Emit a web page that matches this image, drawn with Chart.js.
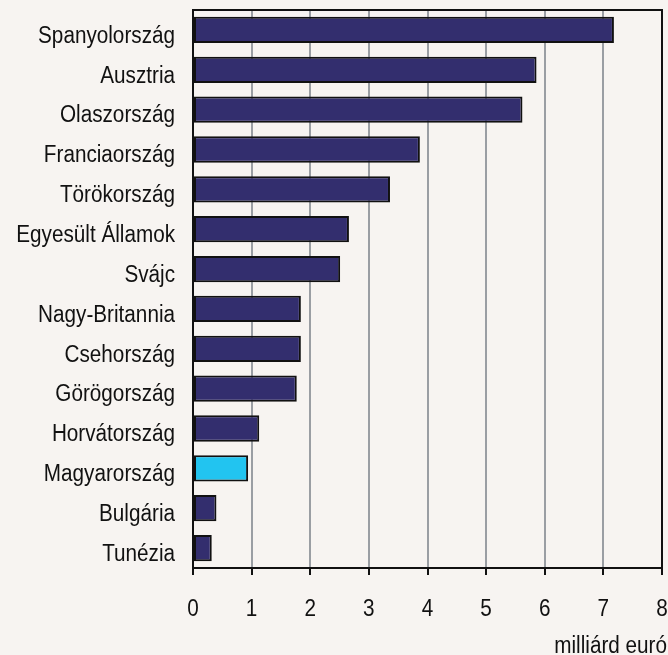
<!DOCTYPE html>
<html lang="hu">
<head>
<meta charset="UTF-8">
<title>Chart</title>
<style>
  html, body { margin: 0; padding: 0; background: #f7f4f1; }
  #wrap { width: 668px; height: 655px; }
</style>
</head>
<body>
<div id="wrap"><canvas id="chart" width="668" height="655"></canvas></div>
<script src="https://cdn.jsdelivr.net/npm/chart.js"></script>
<script>
  const countries = ["Spanyolország", "Ausztria", "Olaszország", "Franciaország", "Törökország",
    "Egyesült Államok", "Svájc", "Nagy-Britannia", "Csehország", "Görögország",
    "Horvátország", "Magyarország", "Bulgária", "Tunézia"];
  const values = [7.18, 5.86, 5.62, 3.87, 3.36, 2.66, 2.51, 1.84, 1.84, 1.77, 1.13, 0.94, 0.40, 0.32];
  const highlight = "Magyarország";
  const unitLabel = "milliárd euró";

  // the original uses a narrow face; squeeze Liberation Sans a little
  const fontCss = "23px 'Liberation Sans', Arial, sans-serif";
  const squeeze = 0.9;

  function narrowText(ctx, text, x, y) {
    ctx.save();
    ctx.translate(x, y);
    ctx.scale(squeeze, 1);
    ctx.fillText(text, 0, 0);
    ctx.restore();
  }

  // frame (top + right edge) and the axis texts
  const extras = {
    id: 'extras',
    afterDatasetsDraw(chart) {
      const { ctx, chartArea: a } = chart;
      ctx.save();
      ctx.strokeStyle = '#111';
      ctx.lineWidth = 2;
      ctx.beginPath();
      ctx.moveTo(a.left, a.top);
      ctx.lineTo(a.right, a.top);
      ctx.lineTo(a.right, a.bottom);
      ctx.stroke();
      ctx.restore();
    },
    afterDraw(chart) {
      const { ctx, chartArea: a, scales } = chart;
      ctx.save();
      ctx.fillStyle = '#111';
      ctx.font = fontCss;
      ctx.textBaseline = 'middle';
      ctx.textAlign = 'right';
      scales.y.ticks.forEach((t, i) => {
        narrowText(ctx, chart.data.labels[t.value], a.left - 18, scales.y.getPixelForTick(i) + 6.5);
      });
      ctx.textAlign = 'center';
      scales.x.ticks.forEach((t, i) => {
        narrowText(ctx, String(t.value), scales.x.getPixelForTick(i), a.bottom + 42);
      });
      ctx.textAlign = 'right';
      ctx.textBaseline = 'alphabetic';
      narrowText(ctx, unitLabel, a.right + 5, a.bottom + 85);
      ctx.restore();
    }
  };

  new Chart(document.getElementById('chart'), {
    type: 'bar',
    data: {
      labels: countries,
      datasets: [{
        data: values,
        backgroundColor: countries.map(c => c === highlight ? '#22c4f0' : '#332e6e'),
        borderColor: '#111',
        borderWidth: 2,
        borderSkipped: false,
        barPercentage: 0.66,
        categoryPercentage: 1
      }]
    },
    options: {
      indexAxis: 'y',
      responsive: false,
      animation: false,
      layout: { autoPadding: false, padding: { top: 10, right: 6, left: 0, bottom: 0 } },
      plugins: { legend: { display: false }, tooltip: { enabled: false } },
      scales: {
        x: {
          min: 0, max: 8,
          ticks: { stepSize: 1, display: false },
          grid: {
            color: ctx => ctx.tick && ctx.tick.value === 8 ? '#111' : '#9a9ea3',
            lineWidth: 2,
            tickLength: 7,
            tickColor: '#111'
          },
          border: { color: '#111', width: 2 },
          afterFit(scale) {
            scale.height = 87;
            scale.paddingLeft = 0;
            scale.paddingRight = 0;
          }
        },
        y: {
          ticks: { display: false },
          grid: { display: false },
          border: { color: '#111', width: 2 },
          afterFit(scale) {
            scale.width = 193;
            scale.paddingTop = 0;
            scale.paddingBottom = 0;
          }
        }
      }
    },
    plugins: [extras]
  });
</script>
</body>
</html>
